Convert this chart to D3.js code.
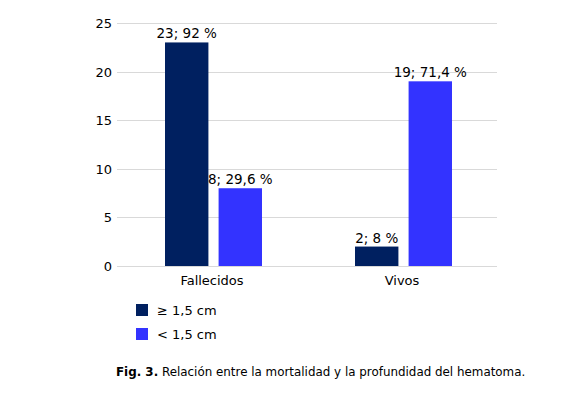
<!DOCTYPE html>
<html>
<head>
<meta charset="utf-8">
<script src="https://cdn.jsdelivr.net/npm/d3@7"></script>
<style>
  body { margin: 0; background: #fff; }
  text { font-family: "DejaVu Sans", Verdana, sans-serif; fill: #000; }
</style>
</head>
<body>
<script>
// data
const categories = ['Fallecidos', 'Vivos'];
const seriesNames = ['\u2265 1,5 cm', '< 1,5 cm'];
const seriesColors = ['#002060', '#3333ff'];
const mayor = [23, 2];
const menor = [8, 19];
const labelsMayor = ['23; 92 %', '2; 8 %'];
const labelsMenor = ['8; 29,6 %', '19; 71,4 %'];
const yTicks = [0, 5, 10, 15, 20, 25];

const width = 580, height = 394;
const margin = { left: 117, right: 83, top: 23, bottom: 128 };

const svg = d3.select('body').append('svg')
    .attr('width', width)
    .attr('height', height);

const x = d3.scaleBand()
    .domain(categories)
    .range([margin.left, width - margin.right]);

const y = d3.scaleLinear()
    .domain([0, 25])
    .range([height - margin.bottom, margin.top]);

// gridlines
svg.append('g')
    .selectAll('line')
    .data(yTicks)
    .join('line')
    .attr('x1', margin.left)
    .attr('x2', width - margin.right)
    .attr('y1', d => Math.round(y(d)) + 0.5)
    .attr('y2', d => Math.round(y(d)) + 0.5)
    .attr('stroke', '#d9d9d9');

svg.append('g')
    .selectAll('text')
    .data(yTicks)
    .join('text')
    .attr('x', margin.left - 5)
    .attr('y', d => y(d) + 5)
    .attr('text-anchor', 'end')
    .style('font-size', '13px')
    .text(d => d);

const sub = d3.scaleBand()
    .domain([0, 1])
    .range([-47, 50])
    .paddingInner(0.19);

const series = [
  { vals: mayor, labels: labelsMayor },
  { vals: menor, labels: labelsMenor }
];

series.forEach((s, si) => {
  const g = svg.append('g');
  g.selectAll('rect')
    .data(categories)
    .join('rect')
    .attr('x', (c) => x(c) + x.bandwidth() / 2 + sub(si))
    .attr('width', sub.bandwidth())
    .attr('y', (c, i) => y(s.vals[i]))
    .attr('height', (c, i) => y(0) - y(s.vals[i]))
    .attr('fill', seriesColors[si]);

  g.selectAll('text')
    .data(categories)
    .join('text')
    .attr('x', (c) => x(c) + x.bandwidth() / 2 + sub(si) + sub.bandwidth() / 2)
    .attr('y', (c, i) => y(s.vals[i]) - 4)
    .attr('text-anchor', 'middle')
    .style('font-size', '13.5px')
    .text((c, i) => s.labels[i]);
});

// category labels
svg.append('g')
    .selectAll('text')
    .data(categories)
    .join('text')
    .attr('x', c => x(c) + x.bandwidth() / 2)
    .attr('y', y(0) + 19)
    .attr('text-anchor', 'middle')
    .style('font-size', '13px')
    .text(c => c);

// legend
const legend = svg.append('g')
    .selectAll('g')
    .data(seriesNames)
    .join('g')
    .attr('transform', (d, i) => `translate(136,${304 + i * 24})`);

legend.append('rect')
    .attr('width', 12)
    .attr('height', 12)
    .attr('fill', (d, i) => seriesColors[i]);

legend.append('text')
    .attr('x', 21)
    .attr('y', 11)
    .style('font-size', '13px')
    .text(d => d);

// caption
const cap = svg.append('text')
    .attr('x', 116)
    .attr('y', 376)
    .style('font-size', '11.9px');
cap.append('tspan').style('font-weight', 'bold').text('Fig. 3.');
cap.append('tspan').text(' Relación entre la mortalidad y la profundidad del hematoma.');
</script>
</body>
</html>
